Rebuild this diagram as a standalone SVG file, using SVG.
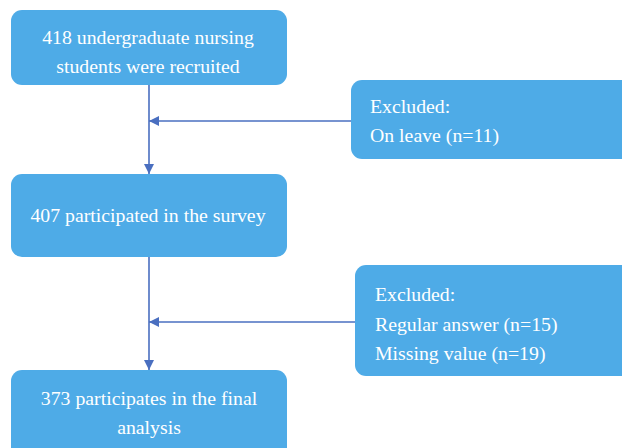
<svg xmlns="http://www.w3.org/2000/svg" width="622" height="448" viewBox="0 0 622 448">
<style>
.box{fill:#4EABE7;}
.t{font-family:"Liberation Serif","Times New Roman",serif;font-size:19.8px;fill:#ffffff;}
.c{text-anchor:middle;}
.ln{stroke:#4A6FC0;stroke-width:1.6;fill:none;}
</style>
<defs>
<marker id="ah" viewBox="0 0 10 10" refX="10" refY="5" markerWidth="10" markerHeight="10" markerUnits="userSpaceOnUse" orient="auto">
<path d="M0,0 L10,5 L0,10 z" fill="#4A6FC0"/>
</marker>
</defs>
<g id="n1"><rect class="box" x="11" y="10" width="276" height="75" rx="11"/>
<text class="t c" x="148" y="44">418 undergraduate nursing</text>
<text class="t c" x="148" y="73">students were recruited</text></g>
<g id="n2"><rect class="box" x="351" y="80" width="290" height="79" rx="11"/>
<text class="t" x="370" y="113">Excluded:</text>
<text class="t" x="370" y="142">On leave (n=11)</text></g>
<g id="n3"><rect class="box" x="11" y="174" width="276" height="83" rx="11"/>
<text class="t c" x="148" y="222">407 participated in the survey</text></g>
<g id="n4"><rect class="box" x="355" y="265" width="290" height="111" rx="11"/>
<text class="t" x="375" y="301">Excluded:</text>
<text class="t" x="375" y="331">Regular answer (n=15)</text>
<text class="t" x="375" y="360">Missing value (n=19)</text></g>
<g id="n5"><rect class="box" x="11" y="370" width="276" height="95" rx="11"/>
<text class="t c" x="149" y="405">373 participates in the final</text>
<text class="t c" x="149" y="434">analysis</text></g>
<g id="connectors">
<line class="ln" x1="149" y1="85" x2="149" y2="174" marker-end="url(#ah)"/>
<line class="ln" x1="351" y1="121" x2="149" y2="121" marker-end="url(#ah)"/>
<line class="ln" x1="149" y1="257" x2="149" y2="370" marker-end="url(#ah)"/>
<line class="ln" x1="355" y1="322" x2="149" y2="322" marker-end="url(#ah)"/>
</g>
</svg>
